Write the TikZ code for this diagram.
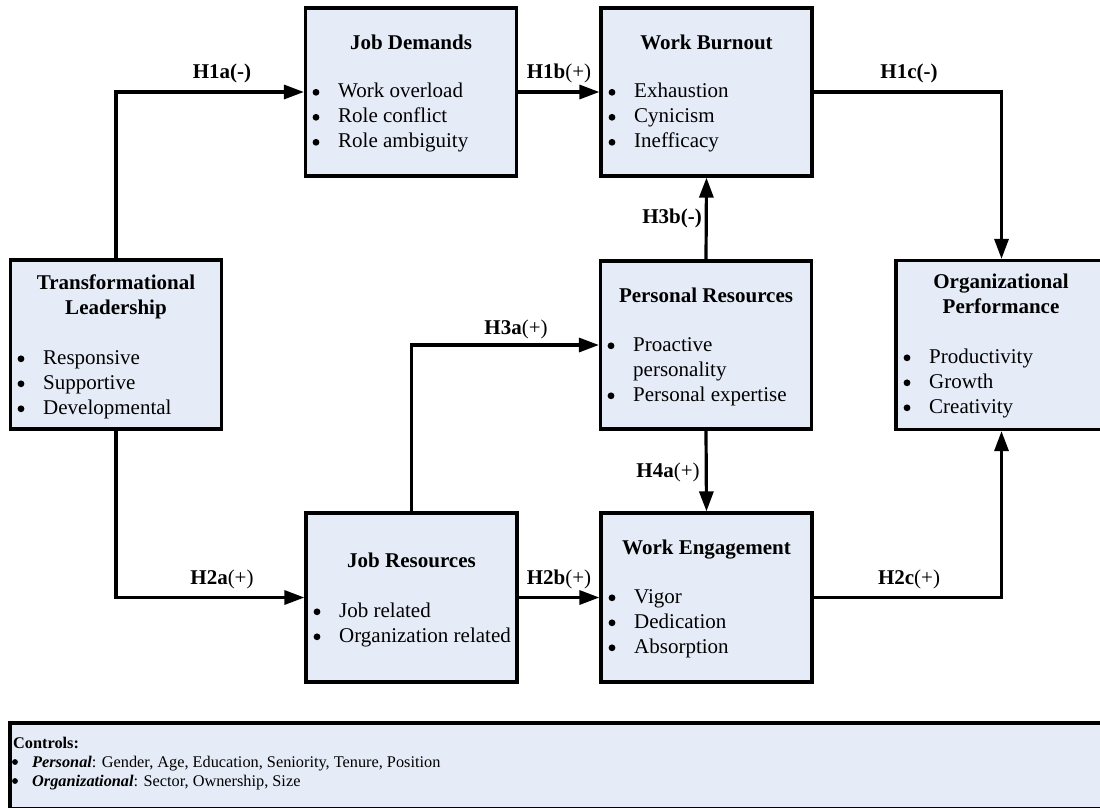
\documentclass[tikz,border=0pt]{standalone}
\usepackage{fontspec}
\setmainfont{Liberation Serif}
\usetikzlibrary{arrows.meta}
\definecolor{boxfill}{RGB}{230,236,247}
\newcommand{\bline}[4]{%
  \node[bul] (#1b) at (#2+11,#3-5.2) {};
  \node[item] (#1) at (#2+33,#3) {#4};}
\begin{document}
\begin{tikzpicture}[x=1pt,y=-1pt,
  box/.style={draw=black, line width=3.2pt, fill=boxfill, inner sep=0pt,
    minimum width=211pt, minimum height=168pt},
  conn/.style={line width=3.2pt, -{Triangle[length=20pt,width=14pt]}},
  title/.style={font=\fontsize{21}{25}\selectfont\bfseries, anchor=base, inner sep=0pt},
  item/.style={font=\fontsize{21}{25}\selectfont, anchor=base west, inner sep=0pt},
  bul/.style={circle, fill=black, inner sep=0pt, minimum size=6.8pt},
  lab/.style={font=\fontsize{21}{25}\selectfont, anchor=base, inner sep=0pt},
  ctl/.style={font=\fontsize{16.3}{19}\selectfont, anchor=base west, inner sep=0pt},
  ctlbul/.style={circle, fill=black, inner sep=0pt, minimum size=5.8pt}]
\useasboundingbox (0,0) rectangle (1100,807);
\clip (0,0) rectangle (1100,807);

% boxes
\node[box] (JD) at (411,92) {};
\node[box] (WB) at (706.5,92) {};
\node[box, minimum height=169pt] (TL) at (116,344.5) {};
\node[box] (PR) at (706,345) {};
\node[box, minimum height=169pt, minimum width=211pt] (OP) at (1001.5,345) {};
\node[box, minimum height=169pt] (JR) at (411.5,597.5) {};
\node[box, minimum height=169pt] (WE) at (706.5,597.5) {};
\node[box, minimum width=1100pt, minimum height=86pt] (CT) at (560,766) {};

% Job Demands
\node[title] (JDt) at (411,49) {Job Demands};
\bline{JD1}{305}{97.5}{Work overload}
\bline{JD2}{305}{122.5}{Role conflict}
\bline{JD3}{305}{147.5}{Role ambiguity}

% Work Burnout
\node[title] (WBt) at (706.5,49) {Work Burnout};
\bline{WB1}{601}{97.5}{Exhaustion}
\bline{WB2}{601}{122.5}{Cynicism}
\bline{WB3}{601}{147.5}{Inefficacy}

% Transformational Leadership
\node[title] (TLt1) at (116,289) {Transformational};
\node[title] (TLt2) at (116,314) {Leadership};
\bline{TL1}{10}{364}{Responsive}
\bline{TL2}{10}{389}{Supportive}
\bline{TL3}{10}{414}{Developmental}

% Personal Resources
\node[title] (PRt) at (706,302) {Personal Resources};
\bline{PR1}{600}{351}{Proactive}
\node[item] (PR1x) at (633,376) {personality};
\bline{PR2}{600}{401}{Personal expertise}

% Organizational Performance
\node[title] (OPt1) at (1001,288) {Organizational};
\node[title] (OPt2) at (1001,313) {Performance};
\bline{OP1}{896}{363}{Productivity}
\bline{OP2}{896}{388}{Growth}
\bline{OP3}{896}{413}{Creativity}

% Job Resources
\node[title] (JRt) at (411.5,567) {Job Resources};
\bline{JR1}{306}{617}{Job related}
\bline{JR2}{306}{642}{Organization related}

% Work Engagement
\node[title] (WEt) at (706.5,554) {Work Engagement};
\bline{WE1}{601}{603}{Vigor}
\bline{WE2}{601}{628}{Dedication}
\bline{WE3}{601}{653}{Absorption}

% Controls
\node[ctl] (CTt) at (13,748) {\textbf{Controls:}};
\node[ctlbul] (CT1b) at (15,762) {};
\node[ctl] (CT1) at (32,767) {\textbf{\textit{Personal}}: Gender, Age, Education, Seniority, Tenure, Position};
\node[ctlbul] (CT2b) at (15,781) {};
\node[ctl] (CT2) at (32,786) {\textbf{\textit{Organizational}}: Sector, Ownership, Size};

% connectors
\draw[conn] (TL.north) |- (JD.west);
\draw[conn] (JD.east) -- (WB.west);
\coordinate (c1) at (1001.5,92);
\draw[conn] (WB.east) -- (c1) -- (c1 |- OP.north);
\draw[conn] (PR.north) -- (WB.south);
\draw[conn] (PR.south) -- (WE.north);
\draw[conn] (JR.north) |- (PR.west);
\draw[conn] (TL.south) |- (JR.west);
\draw[conn] (JR.east) -- (WE.west);
\coordinate (c2) at (1001.5,597.5);
\draw[conn] (WE.east) -- (c2) -- (c2 |- OP.south);

% labels
\node[lab] (L1a) at (222,78) {\textbf{H1a(-)}};
\node[lab] (L1b) at (559,78) {\textbf{H1b}(+)};
\node[lab] (L1c) at (909,78) {\textbf{H1c(-)}};
\node[lab] (L3b) at (672,223) {\textbf{H3b(-)}};
\node[lab] (L3a) at (516,334) {\textbf{H3a}(+)};
\node[lab] (L4a) at (668,477) {\textbf{H4a}(+)};
\node[lab] (L2a) at (222,584) {\textbf{H2a}(+)};
\node[lab] (L2b) at (559,584) {\textbf{H2b}(+)};
\node[lab] (L2c) at (909,584) {\textbf{H2c}(+)};
\end{tikzpicture}
\end{document}
